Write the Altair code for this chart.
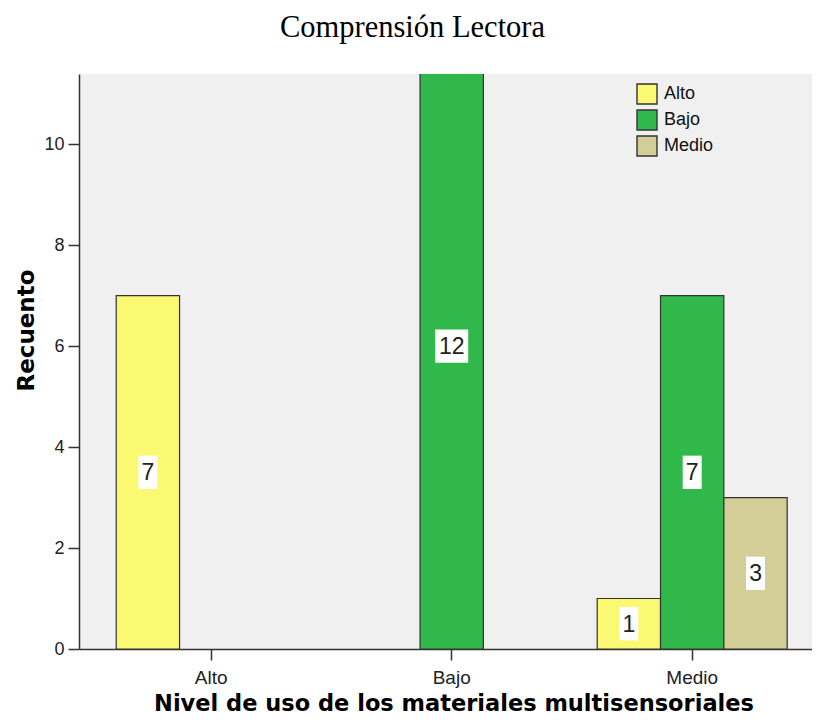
import altair as alt
import pandas as pd

# Data
nivel_categories = ["Alto", "Bajo", "Medio"]          # x: Nivel de uso de los materiales multisensoriales
comp_series = ["Alto", "Bajo", "Medio"]               # legend: Comprensión Lectora
counts_alto = [7, 0, 0]      # counts for x = Alto   (Alto, Bajo, Medio)
counts_bajo = [0, 12, 0]     # counts for x = Bajo
counts_medio = [1, 7, 3]     # counts for x = Medio
series_colors = ["#FBF872", "#31B84A", "#D3CE98"]

rows = []
for nivel, cs in zip(nivel_categories, [counts_alto, counts_bajo, counts_medio]):
    for comp, c in zip(comp_series, cs):
        if c > 0:
            rows.append({"nivel": nivel, "comp": comp, "count": c})
df = pd.DataFrame(rows)

Y_MAX = 11.39
LABEL_FONT = "Liberation Sans"

x_scale = alt.Scale(domain=nivel_categories, paddingInner=0.21, paddingOuter=0.129, align=0.6)
x_enc = alt.X(
    "nivel:N",
    scale=x_scale,
    axis=alt.Axis(
        title="Nivel de uso de los materiales multisensoriales",
        labelAngle=0,
        labelFont=LABEL_FONT,
        labelFontSize=19,
        labelColor="#222222",
        labelPadding=8,
        tickSize=11,
        tickWidth=1.5,
        tickColor="#333333",
        domainColor="#333333",
        domainWidth=1.5,
        titleFont="DejaVu Sans",
        titleFontWeight="bold",
        titleFontSize=22.5,
        titleColor="#000000",
        titleX=374.5,
        titleY=61,
        titleAlign="center",
        titleBaseline="alphabetic",
    ),
)
xoff_enc = alt.XOffset("comp:N", scale=alt.Scale(domain=comp_series, paddingInner=0, paddingOuter=0))
y_scale = alt.Scale(domain=[0, Y_MAX], nice=False, zero=True)

bars = alt.Chart(df).mark_bar(stroke="#333333", strokeWidth=1.2, clip=True).encode(
    x=x_enc,
    xOffset=xoff_enc,
    y=alt.Y(
        "count:Q",
        scale=y_scale,
        axis=alt.Axis(
            title="Recuento",
            values=[0, 2, 4, 6, 8, 10],
            grid=False,
            labelFont=LABEL_FONT,
            labelFontSize=18,
            labelColor="#222222",
            labelPadding=4,
            tickSize=11,
            tickWidth=1.5,
            tickColor="#333333",
            domainColor="#333333",
            domainWidth=1.5,
            titleFont="DejaVu Sans",
            titleFontWeight="bold",
            titleFontSize=23,
            titleColor="#000000",
            titleAngle=-90,
            titleX=-46,
            titleY=256,
            titleAlign="center",
            titleBaseline="alphabetic",
        ),
    ),
    color=alt.Color(
        "comp:N",
        scale=alt.Scale(domain=comp_series, range=series_colors),
        legend=alt.Legend(
            title=None,
            orient="none",
            legendX=557,
            legendY=9,
            symbolType="square",
            symbolSize=400,
            symbolStrokeColor="#333333",
            symbolStrokeWidth=1.4,
            symbolOpacity=1,
            labelFont=LABEL_FONT,
            labelFontSize=18,
            labelColor="#111111",
            labelOffset=6,
            rowPadding=0,
        ),
    ),
)

box_half = 0.33
boxes_base = alt.Chart(df).transform_calculate(
    lo=f"datum.count/2 - {box_half}", hi=f"datum.count/2 + {box_half}"
)
box_single = boxes_base.transform_filter("datum.count < 10").mark_bar(width=19, color="white").encode(
    x=alt.X("nivel:N", scale=x_scale),
    xOffset=xoff_enc,
    y=alt.Y("lo:Q", scale=y_scale),
    y2="hi:Q",
)
box_double = boxes_base.transform_filter("datum.count >= 10").mark_bar(width=33, color="white").encode(
    x=alt.X("nivel:N", scale=x_scale),
    xOffset=xoff_enc,
    y=alt.Y("lo:Q", scale=y_scale),
    y2="hi:Q",
)
texts = alt.Chart(df).transform_calculate(mid="datum.count/2").mark_text(
    font=LABEL_FONT, fontSize=23, color="#222222", baseline="middle", align="center", dy=1
).encode(
    x=alt.X("nivel:N", scale=x_scale),
    xOffset=xoff_enc,
    y=alt.Y("mid:Q", scale=y_scale),
    text="count:Q",
)

chart = alt.layer(bars, box_single, box_double, texts).properties(
    width=733,
    height=575,
    autosize=alt.AutoSizeParams(type="none"),
    padding={"left": 71, "top": 66, "right": 0, "bottom": 68},
    background="white",
    title=alt.TitleParams(
        "Comprensión Lectora",
        font="Liberation Serif",
        fontSize=30.5,
        fontWeight="normal",
        color="#000000",
        anchor="middle",
        frame="group",
        dx=-33,
        offset=31,
    ),
).configure_view(stroke=None, fill="#F0F0F0")

chart.save("out.html", embed_options={"renderer": "svg", "actions": False})
